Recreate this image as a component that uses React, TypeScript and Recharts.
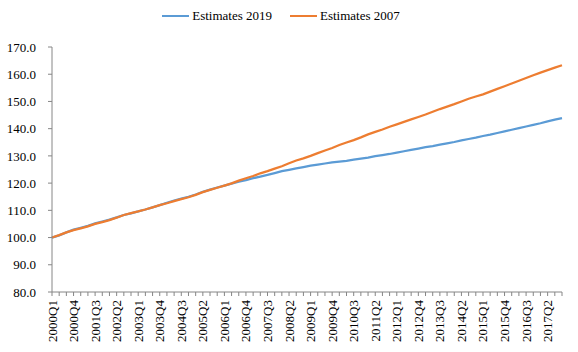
import React from "react";
import { Legend, Line, LineChart, XAxis, YAxis } from "recharts";

const COLORS = {
  est2019: "#5B9BD5",
  est2007: "#ED7D31",
  axis: "#868686",
  text: "#000000",
};

const FONT = '"Liberation Serif", "Times New Roman", serif';

// 2000Q1 .. 2017Q4
const QUARTERS: string[] = [];
for (let y = 2000; y <= 2017; y++) {
  for (let q = 1; q <= 4; q++) QUARTERS.push(`${y}Q${q}`);
}

const ESTIMATES_2019 = [
  100.0, 100.8, 101.9, 102.9, 103.6, 104.3, 105.2, 105.9, 106.6, 107.4,
  108.3, 108.9, 109.6, 110.3, 111.1, 111.9, 112.8, 113.6, 114.3, 115.0,
  115.8, 116.8, 117.6, 118.4, 119.1, 119.8, 120.5, 121.1, 121.8, 122.4,
  123.0, 123.7, 124.4, 124.9, 125.4, 125.9, 126.4, 126.8, 127.2, 127.6,
  127.9, 128.2, 128.6, 129.0, 129.4, 129.9, 130.3, 130.7, 131.2, 131.7,
  132.2, 132.7, 133.2, 133.6, 134.1, 134.6, 135.1, 135.7, 136.2, 136.7,
  137.3, 137.8, 138.4, 139.0, 139.6, 140.2, 140.8, 141.4, 142.0, 142.7,
  143.3, 143.9,
];

const ESTIMATES_2007 = [
  100.0, 100.9, 101.9, 102.7, 103.4, 104.1, 105.0, 105.7, 106.4, 107.3,
  108.3, 109.0, 109.6, 110.3, 111.1, 111.9, 112.6, 113.4, 114.1, 114.8,
  115.7, 116.7, 117.5, 118.3, 119.1, 119.9, 120.9, 121.8, 122.6, 123.6,
  124.4, 125.3, 126.2, 127.3, 128.3, 129.1, 130.0, 131.0, 132.0, 132.9,
  134.0, 134.9, 135.8, 136.8, 137.9, 138.8, 139.7, 140.7, 141.6, 142.5,
  143.4, 144.3, 145.2, 146.2, 147.2, 148.1, 149.0, 150.0, 151.0, 151.8,
  152.6, 153.6, 154.6, 155.6, 156.6, 157.6, 158.6, 159.6, 160.6, 161.5,
  162.4, 163.3,
];

const Y_TICKS = [80, 90, 100, 110, 120, 130, 140, 150, 160, 170];

const data = QUARTERS.map((quarter, i) => ({
  quarter,
  est2019: ESTIMATES_2019[i],
  est2007: ESTIMATES_2007[i],
}));

function QuarterTick(props: any) {
  const { x, y, payload, index } = props;
  return (
    <g>
      <line x1={x} y1={y} x2={x} y2={y + 4} stroke={COLORS.axis} strokeWidth={1} />
      {index % 3 === 0 && (
        <text
          x={x}
          y={y + 8}
          transform={`rotate(-90, ${x}, ${y + 8})`}
          textAnchor="end"
          dominantBaseline="central"
          fontFamily={FONT}
          fontSize={13}
          fill={COLORS.text}
        >
          {payload.value}
        </text>
      )}
    </g>
  );
}

function LegendContent() {
  const items = [
    { name: "Estimates 2019", color: COLORS.est2019 },
    { name: "Estimates 2007", color: COLORS.est2007 },
  ];
  return (
    <div
      style={{
        display: "flex",
        justifyContent: "center",
        gap: 18,
        fontFamily: FONT,
        fontSize: 13,
        color: COLORS.text,
        lineHeight: "16px",
      }}
    >
      {items.map((it) => (
        <div key={it.name} style={{ display: "flex", alignItems: "center" }}>
          <span
            style={{
              display: "inline-block",
              width: 27,
              height: 2.5,
              background: it.color,
              marginRight: 3,
            }}
          />
          {it.name}
        </div>
      ))}
    </div>
  );
}

export default function App() {
  return (
    <div style={{ width: 578, height: 352, background: "#fff" }}>
      <style>{"body{margin:0}"}</style>
      <LineChart
        width={578}
        height={352}
        data={data}
        margin={{ top: 8, right: 16, left: 0, bottom: 0 }}
      >
        <Legend verticalAlign="top" height={39} content={<LegendContent />} />
        <XAxis
          dataKey="quarter"
          interval={0}
          height={60}
          tickSize={0}
          tickMargin={0}
          tickLine={false}
          axisLine={{ stroke: COLORS.axis }}
          tick={<QuarterTick />}
        />
        <YAxis
          domain={[80, 170]}
          ticks={Y_TICKS}
          width={52}
          tickSize={4}
          tickMargin={12}
          axisLine={{ stroke: COLORS.axis }}
          tickLine={{ stroke: COLORS.axis }}
          tickFormatter={(v: number) => v.toFixed(1)}
          tick={{ fontFamily: FONT, fontSize: 13, fill: COLORS.text }}
        />
        <Line
          type="linear"
          dataKey="est2019"
          name="Estimates 2019"
          stroke={COLORS.est2019}
          strokeWidth={2.25}
          dot={false}
          isAnimationActive={false}
        />
        <Line
          type="linear"
          dataKey="est2007"
          name="Estimates 2007"
          stroke={COLORS.est2007}
          strokeWidth={2.25}
          dot={false}
          isAnimationActive={false}
        />
      </LineChart>
    </div>
  );
}
